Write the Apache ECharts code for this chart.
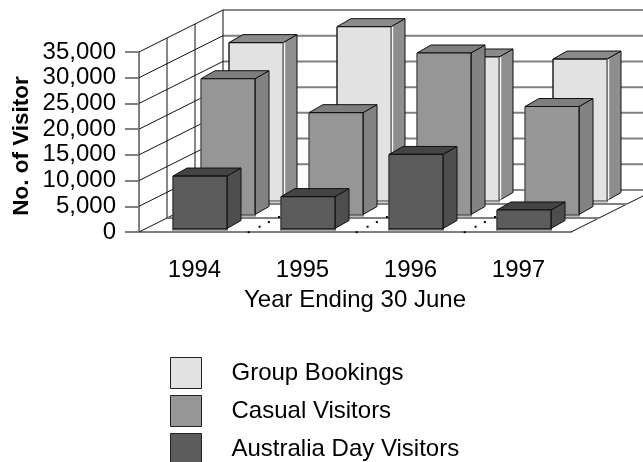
<!DOCTYPE html>
<html>
<head>
<meta charset="utf-8">
<style>
  html, body { margin: 0; padding: 0; background: #fff; }
  #main { width: 643px; height: 462px; }
</style>
<script src="https://cdn.jsdelivr.net/npm/echarts@6/dist/echarts.min.js"></script>
</head>
<body>
<div id="main"></div>
<script>
const categories = ['1994', '1995', '1996', '1997'];
const groupBookings = [30700, 33800, 27900, 27500];
const casualVisitors = [26400, 19800, 31400, 21000];
const australiaDay = [10200, 6200, 14400, 3600];
const yTicks = [0, 5000, 10000, 15000, 20000, 25000, 30000, 35000];
const yTickLabels = ['0', '5,000', '10,000', '15,000', '20,000', '25,000', '30,000', '35,000'];
const legendNames = ['Group Bookings', 'Casual Visitors', 'Australia Day Visitors'];
// floor dots left over from the hidden category dividers, as fractions of the floor depth
const floorDots = [0.02, 0.15, 0.26, 0.38];

const FONT = '"Liberation Sans", Arial, sans-serif';
// total depth of the box, 3 rows of 1/3 each
const DEPTH_X = 84, DEPTH_Y = 42;
const ROW_X = DEPTH_X / 3, ROW_Y = DEPTH_Y / 3;
const BAR_W = 54, BAR_DX = 14, BAR_DY = 8;
const GREY = '#808080', INK = '#111';

function line(x1, y1, x2, y2, stroke, lineWidth) {
  return { type: 'line', silent: true, shape: { x1, y1, x2, y2 }, style: { stroke, lineWidth: lineWidth || 1 } };
}

function poly(points, fill) {
  return { type: 'polygon', silent: true, shape: { points }, style: { fill, stroke: INK, lineWidth: 1, lineJoin: 'round' } };
}

// one 3D bar; row 0 is the front row
function barSeries(name, values, row, c) {
  return {
    name,
    type: 'custom',
    data: values.map((v, i) => [i, v]),
    encode: { x: 0, y: 1 },
    z: 5,
    itemStyle: { color: c.front },
    renderItem(params, api) {
      const top = api.coord([api.value(0), api.value(1)]);
      const base = api.coord([api.value(0), 0]);
      const band = api.size([1, 0])[0];
      const x = top[0] - band / 2 + (band - BAR_W) / 2 + ROW_X / 4 + row * ROW_X;
      const yT = top[1] - ROW_Y / 4 - row * ROW_Y;
      const yB = base[1] - ROW_Y / 4 - row * ROW_Y;
      const xR = x + BAR_W;
      const children = [
        line(x - 1, yB + 1, xR + 1, yB + 1, c.shade, 2),
        poly([[xR, yT], [xR + BAR_DX, yT - BAR_DY], [xR + BAR_DX, yB - BAR_DY], [xR, yB]], c.side),
        poly([[x, yT], [x + BAR_DX, yT - BAR_DY], [xR + BAR_DX, yT - BAR_DY], [xR, yT]], c.top),
        { type: 'rect', silent: true, shape: { x, y: yT, width: BAR_W, height: yB - yT }, style: { fill: c.front } },
        line(x, yT, x, yB, c.left, 1.5),
        line(x, yT, xR, yT, INK, 1.2),
        line(xR, yT, xR, yB, c.right || INK, 1.2),
        line(x, yB, xR, yB, c.bottom, 1.2)
      ];
      if (c.glint) children.push(line(xR + 1.5, yT, xR + 1.5, yB - 1, c.glint, 1.5));
      return { type: 'group', children };
    }
  };
}

const option = {
  animation: false,
  backgroundColor: '#fff',
  textStyle: { fontFamily: FONT },
  grid: { left: 139, top: 52, width: 432, height: 180 },
  legend: {
    orient: 'vertical',
    left: 170,
    top: 357,
    height: 140,
    padding: 0,
    icon: 'rect',
    itemWidth: 31,
    itemHeight: 31,
    itemGap: 6,
    data: legendNames,
    selectedMode: false,
    itemStyle: { borderColor: '#222', borderWidth: 1 },
    textStyle: { fontSize: 24, color: '#000', fontFamily: FONT, padding: [0, 0, 0, 25] }
  },
  xAxis: {
    type: 'category',
    data: categories,
    name: 'Year Ending 30 June',
    nameLocation: 'center',
    nameGap: 56,
    nameTextStyle: { fontSize: 24, color: '#000', fontFamily: FONT },
    axisLine: { lineStyle: { color: GREY, width: 2 } },
    axisTick: { alignWithLabel: true, length: 15, lineStyle: { color: INK } },
    axisLabel: { fontSize: 24, color: '#000', fontFamily: FONT, margin: 26, padding: [0, 0, 0, 3] },
    splitLine: { show: false }
  },
  yAxis: {
    type: 'value',
    min: 0,
    max: 35000,
    interval: 5000,
    axisLine: { show: true, lineStyle: { color: GREY, width: 2 } },
    axisTick: { show: true, length: 14, lineStyle: { color: GREY, width: 2 } },
    axisLabel: {
      fontSize: 24, color: '#000', fontFamily: FONT, margin: 23,
      formatter: v => yTickLabels[yTicks.indexOf(v)]
    },
    splitLine: { show: false }
  },
  // the axis name gets pushed away from the labels, so the title sits here instead
  graphic: [{
    type: 'text', silent: true, x: 22, y: 146, rotation: Math.PI / 2,
    style: { text: 'No. of Visitor', fill: '#000', font: 'bold 22.5px ' + FONT, textAlign: 'center', textVerticalAlign: 'middle' }
  }],
  series: [
    {
      // walls and gridlines, one item per value tick
      type: 'custom',
      data: yTicks.map(v => [0, v]),
      encode: { x: 0, y: 1 },
      z: 1,
      renderItem(params, api) {
        const p = api.coord([0, api.value(1)]);
        const band = api.size([1, 0])[0];
        const xL = p[0] - band / 2;
        const xR = xL + band * categories.length;
        const isTop = api.value(1) === yTicks[yTicks.length - 1];
        const isBottom = api.value(1) === 0;
        const children = [
          line(xL, p[1], xL + DEPTH_X, p[1] - DEPTH_Y, INK, 1),
          line(xL + DEPTH_X, p[1] - DEPTH_Y, xR + DEPTH_X, p[1] - DEPTH_Y, isTop || isBottom ? INK : GREY, isTop || isBottom ? 1 : 2)
        ];
        if (isTop) {
          const low = api.coord([0, 0]);
          children.push(line(xL + DEPTH_X, p[1] - DEPTH_Y, xL + DEPTH_X, low[1] - DEPTH_Y, INK, 1));
          children.push(line(xL + ROW_X, p[1] - ROW_Y, xL + ROW_X, low[1] - ROW_Y, INK, 1));
          children.push(line(xL + 2 * ROW_X, p[1] - 2 * ROW_Y, xL + 2 * ROW_X, low[1] - 2 * ROW_Y, INK, 1));
        }
        if (isBottom) {
          children.push(line(xR, p[1], xR + DEPTH_X, p[1] - DEPTH_Y, INK, 1));
          children.push(line(xL + ROW_X, p[1] - ROW_Y, xR + ROW_X, p[1] - ROW_Y, GREY, 2));
          children.push(line(xL + 2 * ROW_X, p[1] - 2 * ROW_Y, xR + 2 * ROW_X, p[1] - 2 * ROW_Y, GREY, 2));
        }
        return { type: 'group', children };
      }
    },
    {
      // dots along the hidden category dividers on the floor
      type: 'custom',
      data: categories.slice(0, -1).map((c, i) => [i, 0]),
      encode: { x: 0, y: 1 },
      z: 2,
      renderItem(params, api) {
        const p = api.coord([api.value(0), 0]);
        const band = api.size([1, 0])[0];
        return {
          type: 'group',
          children: floorDots.map(f => ({
            type: 'rect', silent: true,
            shape: { x: p[0] + band / 2 + f * DEPTH_X - 1, y: p[1] - f * DEPTH_Y, width: 2, height: 2 },
            style: { fill: '#000' }
          }))
        };
      }
    },
    barSeries(legendNames[0], groupBookings, 2, { front: '#e2e2e2', side: '#8e8e8e', top: '#8a8a8a', shade: '#9a9a9a', bottom: '#888', left: '#222', right: '#555', glint: '#f4f4f4' }),
    barSeries(legendNames[1], casualVisitors, 1, { front: '#969696', side: '#828282', top: '#7e7e7e', shade: '#777', bottom: '#666', left: '#555' }),
    barSeries(legendNames[2], australiaDay, 0, { front: '#5c5c5c', side: '#4e4e4e', top: '#444', shade: '#555', bottom: '#222', left: '#3a3a3a' })
  ]
};

const myChart = echarts.init(document.getElementById('main'));
myChart.setOption(option);
</script>
</body>
</html>
